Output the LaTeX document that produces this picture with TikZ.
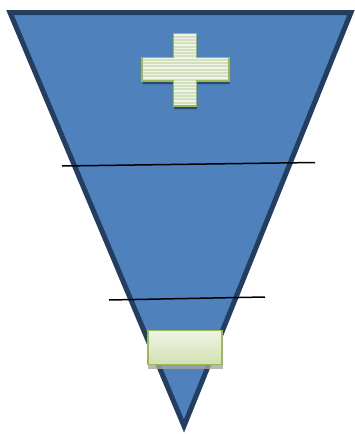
\documentclass[tikz,border=0pt]{standalone}
\usetikzlibrary{positioning}
\definecolor{funnel}{HTML}{4F81BD}
\definecolor{funnelrim}{HTML}{233E61}
\definecolor{signrim}{HTML}{9BBB59}
\definecolor{signtop}{HTML}{F0F4E6}
\definecolor{signbot}{HTML}{D2E1B3}
\definecolor{signbase}{HTML}{D3E0BE}
\definecolor{signshade}{HTML}{2B4A72}

\begin{document}
\begin{tikzpicture}[
  x=1pt, y=-1pt,
  rim/.style={draw=funnelrim, fill=funnel, line width=5pt, line join=miter},
  cut/.style={draw=black, line width=1.5pt},
  sign/.style={draw=signrim, line width=1.6pt, line join=miter},
  shade/.style={fill=signshade, draw=none},
  minusbox/.style={sign, rectangle, inner sep=0pt, minimum width=74pt,
                   minimum height=34pt, top color=signtop, bottom color=signbot},
]
\useasboundingbox (0,0) rectangle (355,434);

% ---------------- funnel ----------------
\draw[rim] (10,12.5) -- (351,12.5) -- (184,426) -- cycle;

% ---------------- level lines ----------------
\coordinate (cutAw) at (62,166);
\coordinate (cutAe) at (315,162.5);
\coordinate (cutBw) at (109,300);
\coordinate (cutBe) at (265,297);
\draw[cut] (cutAw) -- (cutAe);
\draw[cut] (cutBw) -- (cutBe);

% ---------------- plus sign (top) ----------------
\def\plusshape{(173.5,33.5) -- (196.5,33.5) -- (196.5,57.5) -- (229,57.5)
  -- (229,81) -- (196.5,81) -- (196.5,106) -- (173.5,106) -- (173.5,81)
  -- (142,81) -- (142,57.5) -- (173.5,57.5) -- cycle}
\fill[shade, shift={(0.5,3)}] \plusshape;
\fill[signbase] \plusshape;
\begin{scope}
  \clip \plusshape;
  \foreach \y in {35,38.3,...,106}
    \draw[white!65!signbase, line width=1.3pt] (140,\y) -- (231,\y);
\end{scope}
\draw[sign] \plusshape;

% ---------------- minus sign (bottom) ----------------
\fill[gray!70, opacity=0.8] (148,333) rectangle (223,368.5);
\node[minusbox] (minus) at (185,347.3) {};

\end{tikzpicture}
\end{document}
